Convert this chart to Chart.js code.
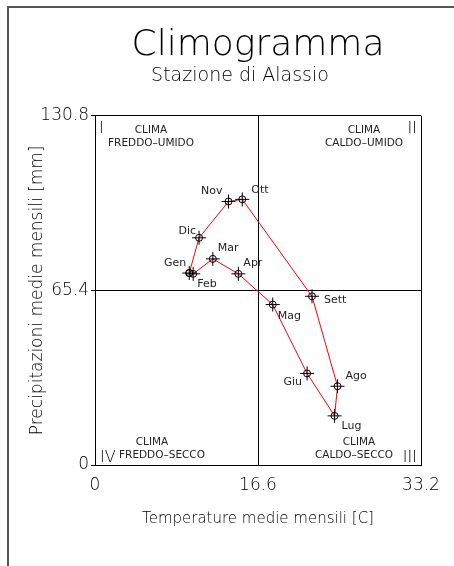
<!DOCTYPE html>
<html>
<head>
<meta charset="utf-8">
<title>Climogramma</title>
<script src="https://cdn.jsdelivr.net/npm/chart.js@4/dist/chart.umd.min.js"></script>
<style>
  body { margin: 0; background: #fff; }
  #wrap { width: 454px; height: 566px; }
</style>
</head>
<body>
<div id="wrap"><canvas id="climaChart" width="454" height="566"></canvas></div>
<script>
// dati mensili (Alassio)
var mesi = ["Gen", "Feb", "Mar", "Apr", "Mag", "Giu", "Lug", "Ago", "Sett", "Ott", "Nov", "Dic"];
var temperature = [9.6, 10.0, 12.0, 14.6, 18.1, 21.6, 24.4, 24.7, 22.1, 15.0, 13.6, 10.6];
var precipitazioni = [71.9, 71.6, 77.2, 71.6, 60.1, 34.3, 18.4, 29.5, 63.2, 99.5, 98.7, 85.1];
var xTicks = [0, 16.6, 33.2];
var yTicks = [0, 65.4, 130.8];

// where each month name sits next to its point: [dx, dy, align]
var labelPos = [
  [-3, -10, 'right'], [4, 10, 'left'], [5, -11, 'left'], [5, -11, 'left'],
  [5, 12, 'left'], [-5, 9, 'right'], [7, 10, 'left'], [8, -10, 'left'],
  [12, 4, 'left'], [9, -9, 'left'], [-6, -10, 'right'], [-3, -7, 'right']
];

var punti = mesi.map(function(m, i){ return {x: temperature[i], y: precipitazioni[i]}; });
var anello = punti.concat([punti[0]]); // chiude il ciclo Dic -> Gen

var FONT = "'DejaVu Sans', sans-serif";
var INK = '#000';

var climaPlugin = {
  id: 'clima',
  beforeDraw: function(chart){
    var ctx = chart.ctx;
    ctx.save();
    ctx.fillStyle = '#fff';
    ctx.fillRect(0, 0, chart.width, chart.height);
    // cornice esterna
    ctx.strokeStyle = '#555';
    ctx.lineWidth = 2;
    ctx.beginPath();
    ctx.moveTo(8, chart.height);
    ctx.lineTo(8, 7);
    ctx.lineTo(chart.width, 7);
    ctx.stroke();
    ctx.restore();
  },
  afterDatasetsDraw: function(chart){
    var ctx = chart.ctx;
    var a = chart.chartArea;
    ctx.save();
    ctx.fillStyle = INK;
    ctx.textBaseline = 'alphabetic';

    // numeri romani dei quadranti
    ctx.font = '200 16px ' + FONT;
    ctx.textAlign = 'left';
    ctx.fillText('I', a.left + 4, a.top + 17);
    ctx.fillText('IV', a.left + 5, a.bottom - 3);
    ctx.textAlign = 'right';
    ctx.fillText('II', a.right - 4, a.top + 17);
    ctx.fillText('III', a.right - 4, a.bottom - 3);

    // nomi dei climi
    ctx.font = '10.5px ' + FONT;
    ctx.fillStyle = '#222';
    ctx.textAlign = 'center';
    ctx.fillText('CLIMA', a.left + 56, a.top + 17);
    ctx.fillText('FREDDO\u2013UMIDO', a.left + 56, a.top + 30);
    ctx.fillText('CLIMA', a.right - 57, a.top + 17);
    ctx.fillText('CALDO\u2013UMIDO', a.right - 57, a.top + 30);
    ctx.fillText('CLIMA', a.left + 57, a.bottom - 20);
    ctx.fillText('FREDDO\u2013SECCO', a.left + 67, a.bottom - 7);
    ctx.fillText('CLIMA', a.right - 62, a.bottom - 20);
    ctx.fillText('CALDO\u2013SECCO', a.right - 67, a.bottom - 7);

    // etichette dei mesi
    var meta = chart.getDatasetMeta(0);
    ctx.font = '11px ' + FONT;
    ctx.textBaseline = 'middle';
    mesi.forEach(function(m, i){
      var p = meta.data[i];
      var o = labelPos[i];
      ctx.textAlign = o[2];
      ctx.fillText(m, p.x + o[0], p.y + o[1]);
    });
    ctx.restore();
  }
};

var ctx = document.getElementById('climaChart').getContext('2d');
var climaChart = new Chart(ctx, {
  type: 'scatter',
  data: {
    datasets: [{
      label: 'Ciclo mensile',
      data: anello,
      showLine: true,
      borderColor: '#ff0000',
      borderWidth: 1,
      pointStyle: 'circle',
      pointRadius: 3.5,
      pointBorderColor: '#000',
      pointBackgroundColor: 'rgba(0,0,0,0)',
      pointBorderWidth: 1,
      order: 1
    }, {
      label: 'Mesi',
      data: punti,
      showLine: false,
      pointStyle: 'cross',
      pointRadius: 7,
      pointBorderColor: '#000',
      pointBorderWidth: 1,
      order: 0
    }]
  },
  options: {
    responsive: false,
    animation: false,
    layout: { padding: { left: 36, right: 10, top: 0, bottom: 0 } },
    plugins: {
      legend: { display: false },
      tooltip: { enabled: false },
      title: {
        display: true,
        fullSize: false,
        text: 'Climogramma',
        color: INK,
        font: { family: FONT, size: 36, weight: 200, lineHeight: 1 },
        padding: { top: 28, bottom: 0 }
      },
      subtitle: {
        display: true,
        text: 'Stazione di Alassio',
        color: INK,
        font: { family: FONT, size: 19, weight: 200, lineHeight: 1.2 },
        padding: { top: 1, bottom: 28 }
      }
    },
    scales: {
      x: {
        type: 'linear',
        min: 0,
        max: 33.2,
        afterBuildTicks: function(scale){ scale.ticks = xTicks.map(function(v){ return {value: v}; }); },
        afterFit: function(scale){ scale.height = 101; },
        ticks: {
          color: INK,
          padding: 10,
          font: { family: FONT, size: 17, weight: 200 },
          callback: function(v){ return String(v); }
        },
        grid: { color: '#000', lineWidth: 1, drawTicks: false },
        border: { display: true, color: '#000', width: 1 },
        title: {
          display: true,
          text: 'Temperature medie mensili [C]',
          color: INK,
          font: { family: FONT, size: 15, weight: 200, lineHeight: 1.2 },
          padding: { top: 0, bottom: 38 }
        }
      },
      y: {
        type: 'linear',
        min: 0,
        max: 130.8,
        afterBuildTicks: function(scale){ scale.ticks = yTicks.map(function(v){ return {value: v}; }); },
        afterFit: function(scale){ scale.width = 59; },
        ticks: {
          color: INK,
          padding: 2,
          font: { family: FONT, size: 17, weight: 200 },
          callback: function(v){ return String(v); }
        },
        grid: { color: '#000', lineWidth: 1, drawTicks: true, tickLength: 4 },
        border: { display: true, color: '#000', width: 1 },
        title: {
          display: true,
          text: 'Precipitazioni medie mensili [mm]',
          color: INK,
          font: { family: FONT, size: 17, weight: 200, lineHeight: 1.2 },
          padding: { top: -9, bottom: 0 }
        }
      },
      // empty strip on the right, keeps the plot box narrower than the page
      margine: {
        type: 'linear',
        position: 'right',
        display: true,
        ticks: { display: false },
        grid: { display: false, drawTicks: false },
        border: { display: false },
        afterFit: function(scale){ scale.width = 23; }
      }
    }
  },
  plugins: [climaPlugin]
});
</script>
</body>
</html>
